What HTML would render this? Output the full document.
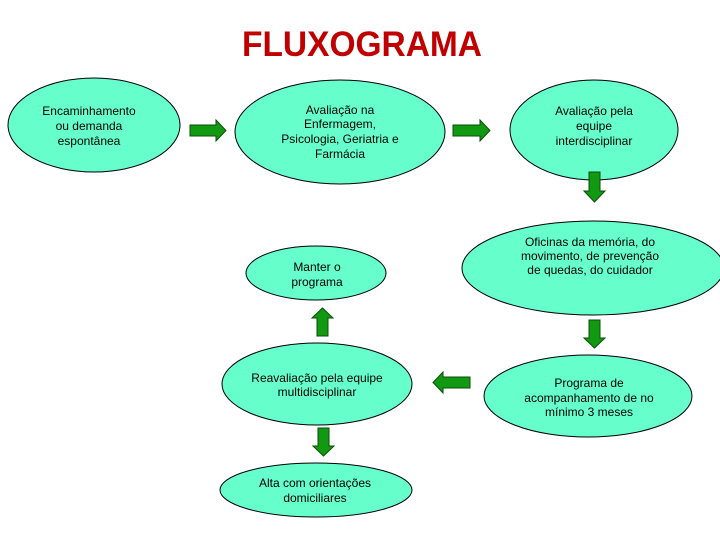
<!DOCTYPE html>
<html><head><meta charset="utf-8"><style>
body{margin:0;background:#fff;}
svg{display:block}
text{font-family:"Liberation Sans",Arial,sans-serif;font-size:12px;fill:#000;text-anchor:middle}
</style></head><body>
<svg width="720" height="540" viewBox="0 0 720 540" xmlns="http://www.w3.org/2000/svg">
<text x="362" y="56" style="font-size:35px;font-weight:bold;fill:#c00000" textLength="240" lengthAdjust="spacingAndGlyphs">FLUXOGRAMA</text>
<g fill="#66ffcc" stroke="#000" stroke-width="1">
<ellipse cx="94" cy="125" rx="86" ry="47"/>
<ellipse cx="340" cy="132" rx="105" ry="52"/>
<ellipse cx="594" cy="130" rx="84" ry="50"/>
<ellipse cx="316" cy="273" rx="70" ry="27"/>
<ellipse cx="593" cy="268" rx="131" ry="47"/>
<ellipse cx="317" cy="384" rx="95" ry="41"/>
<ellipse cx="588" cy="396" rx="104" ry="41"/>
<ellipse cx="316" cy="490" rx="96" ry="27"/>
</g>
<g fill="#119911" stroke="#0a4d0a" stroke-width="1">
<polygon points="190,125 216,125 216,120 226,130.5 216,141 216,136 190,136"/>
<polygon points="453,125 480,125 480,120 490,130.5 480,141 480,136 453,136"/>
<polygon points="589,172 600,172 600,191 605,191 594.5,202 584,191 589,191"/>
<polygon points="589,320 600,320 600,338 605,338 594.5,348 584,338 589,338"/>
<polygon points="470,377 443,377 443,372 433,382.5 443,393 443,388 470,388"/>
<polygon points="317,336 328,336 328,318 333,318 322.5,308 312,318 317,318"/>
<polygon points="318,428 329,428 329,446 334,446 323.5,456 313,446 318,446"/>
</g>
<text x="89" y="115">Encaminhamento</text>
<text x="89" y="130">ou demanda</text>
<text x="89" y="145">espontânea</text>
<text x="340" y="114">Avaliação na</text>
<text x="340" y="128">Enfermagem,</text>
<text x="340" y="143">Psicologia, Geriatria e</text>
<text x="340" y="158">Farmácia</text>
<text x="594" y="115">Avaliação pela</text>
<text x="594" y="130">equipe</text>
<text x="594" y="145">interdisciplinar</text>
<text x="317" y="271">Manter o</text>
<text x="317" y="286">programa</text>
<text x="590" y="246">Oficinas da memória, do</text>
<text x="590" y="260">movimento, de prevenção</text>
<text x="590" y="274">de quedas, do cuidador</text>
<text x="317" y="382">Reavaliação pela equipe</text>
<text x="317" y="396">multidisciplinar</text>
<text x="589" y="387">Programa de</text>
<text x="589" y="402">acompanhamento de no</text>
<text x="589" y="416">mínimo 3 meses</text>
<text x="315" y="487">Alta com orientações</text>
<text x="315" y="502">domiciliares</text>
</svg>
</body></html>
